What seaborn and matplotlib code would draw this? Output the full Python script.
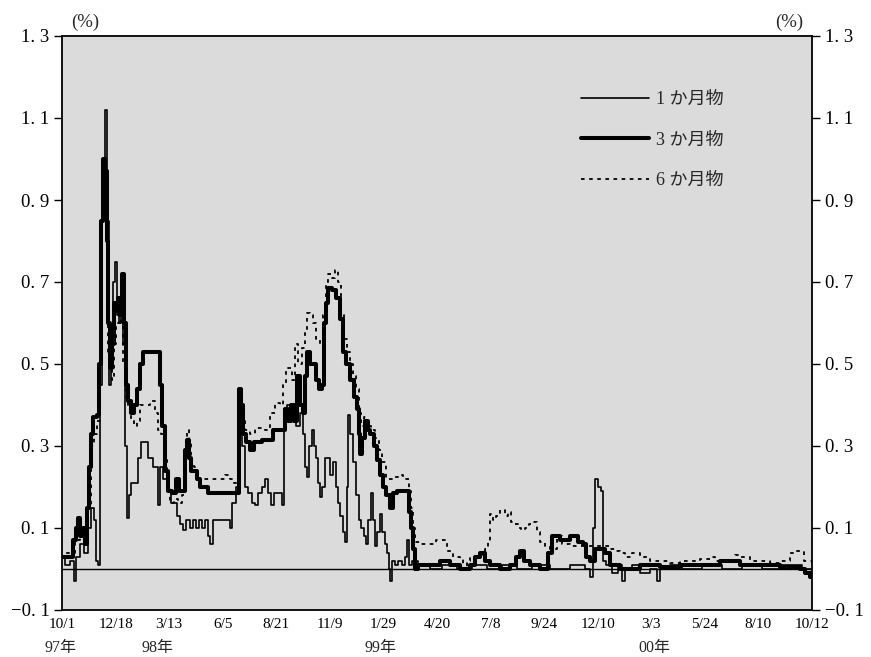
import matplotlib
matplotlib.use("Agg")
import matplotlib.pyplot as plt
import seaborn as sns
import numpy as np
from matplotlib.ticker import FuncFormatter

# business-day index (0 = 97/10/1, 750 = 00/10/12)
day_1m = [0, 3, 8, 12, 14, 18, 22, 26, 29, 32, 34, 36, 38, 40, 43, 45, 47, 49, 51, 53,
          55, 57, 59, 61, 63, 65, 67, 69, 72, 76, 79, 83, 86, 89, 91, 94, 96, 98, 101, 105,
          109, 115, 118, 121, 124, 128, 131, 134, 137, 140, 143, 146, 148, 151, 158, 163, 168, 170, 174, 176,
          178, 180, 183, 186, 190, 193, 196, 200, 203, 206, 209, 212, 216, 220, 222, 225, 228, 231, 234, 238,
          241, 243, 245, 247, 250, 252, 254, 256, 258, 260, 263, 266, 268, 271, 274, 276, 278, 281, 283, 285,
          286, 288, 291, 294, 297, 299, 302, 304, 306, 309, 311, 313, 315, 318, 320, 323, 325, 327, 328, 330,
          333, 336, 340, 343, 345, 347, 350, 356, 368, 380, 395, 410, 425, 440, 455, 470, 488, 508, 523, 528,
          531, 533, 536, 539, 541, 544, 550, 556, 560, 563, 570, 578, 588, 595, 598, 608, 620, 640, 660, 680,
          700, 720, 740, 750]
rate_1m = [0.03, 0.01, 0.02, -0.03, 0.03, 0.06, 0.04, 0.10, 0.15, 0.12, 0.02, 0.01, 0.45, 0.95, 1.12, 0.85, 0.45, 0.55, 0.70, 0.75,
           0.62, 0.60, 0.65, 0.55, 0.30, 0.125, 0.18, 0.21, 0.21, 0.27, 0.31, 0.31, 0.27, 0.27, 0.25, 0.25, 0.155, 0.25, 0.22, 0.19,
           0.16, 0.13, 0.11, 0.095, 0.12, 0.10, 0.12, 0.10, 0.12, 0.10, 0.12, 0.08, 0.06, 0.12, 0.12, 0.12, 0.10, 0.16, 0.20, 0.38,
           0.44, 0.30, 0.20, 0.185, 0.16, 0.155, 0.185, 0.20, 0.22, 0.185, 0.155, 0.185, 0.185, 0.155, 0.39, 0.40, 0.37, 0.40, 0.35, 0.38,
           0.33, 0.25, 0.225, 0.30, 0.34, 0.30, 0.27, 0.21, 0.175, 0.20, 0.27, 0.27, 0.23, 0.26, 0.20, 0.16, 0.13, 0.09, 0.065, 0.20,
           0.375, 0.33, 0.26, 0.18, 0.12, 0.10, 0.08, 0.06, 0.12, 0.185, 0.12, 0.055, 0.09, 0.135, 0.09, 0.06, 0.04, 0.00, -0.03, 0.02,
           0.01, 0.02, 0.01, 0.03, 0.07, 0.01, 0.02, 0.01, 0.0, 0.01, 0.0, 0.01, 0.0, 0.01, 0.0, 0.01, 0.0, 0.01, 0.0, -0.02,
           0.10, 0.22, 0.20, 0.19, 0.02, 0.01, -0.01, 0.01, -0.03, 0.0, 0.01, -0.01, 0.0, -0.03, 0.0, 0.01, 0.0, 0.01, 0.0, 0.01,
           0.0, 0.01, 0.0, 0.0]

day_3m = [0, 4, 8, 11, 14, 16, 18, 21, 23, 25, 27, 29, 31, 35, 37, 39, 41, 43, 45, 46,
          48, 50, 52, 54, 56, 58, 60, 62, 64, 66, 69, 72, 75, 78, 81, 96, 98, 100, 103, 106,
          110, 114, 117, 120, 123, 125, 127, 129, 132, 135, 138, 142, 146, 175, 177, 179, 181, 184, 188, 192,
          196, 200, 208, 211, 221, 223, 226, 229, 232, 235, 238, 241, 243, 245, 248, 251, 254, 257, 260, 262,
          264, 266, 270, 274, 278, 281, 284, 288, 292, 295, 297, 298, 300, 303, 306, 308, 312, 315, 318, 321,
          324, 328, 331, 335, 345, 347, 349, 351, 353, 356, 363, 378, 388, 398, 408, 413, 418, 423, 428, 438,
          448, 454, 458, 462, 468, 478, 486, 490, 498, 508, 516, 521, 524, 528, 533, 538, 543, 548, 558, 578,
          598, 618, 638, 658, 678, 698, 718, 738, 743, 748, 750]
rate_3m = [0.03, 0.03, 0.03, 0.07, 0.10, 0.125, 0.08, 0.10, 0.06, 0.15, 0.25, 0.33, 0.37, 0.375, 0.50, 0.85, 1.00, 0.97, 0.80, 0.60,
           0.49, 0.55, 0.65, 0.63, 0.66, 0.62, 0.72, 0.60, 0.45, 0.41, 0.38, 0.40, 0.44, 0.50, 0.53, 0.53, 0.45, 0.35, 0.24, 0.19,
           0.185, 0.22, 0.19, 0.19, 0.29, 0.315, 0.27, 0.24, 0.24, 0.22, 0.20, 0.20, 0.185, 0.185, 0.44, 0.40, 0.33, 0.31, 0.29, 0.31,
           0.31, 0.315, 0.315, 0.34, 0.34, 0.39, 0.36, 0.40, 0.36, 0.47, 0.40, 0.38, 0.47, 0.53, 0.50, 0.50, 0.46, 0.44, 0.45, 0.60,
           0.65, 0.685, 0.68, 0.66, 0.61, 0.53, 0.50, 0.46, 0.42, 0.39, 0.33, 0.28, 0.32, 0.36, 0.34, 0.33, 0.30, 0.265, 0.23, 0.20,
           0.18, 0.15, 0.185, 0.19, 0.19, 0.14, 0.10, 0.05, 0.0, 0.01, 0.01, 0.02, 0.01, 0.0, 0.01, 0.03, 0.04, 0.02, 0.01, 0.0,
           0.01, 0.03, 0.045, 0.02, 0.01, 0.0, 0.04, 0.08, 0.07, 0.08, 0.065, 0.06, 0.03, 0.02, 0.05, 0.05, 0.04, 0.01, 0.0, 0.01,
           0.005, 0.01, 0.01, 0.02, 0.01, 0.01, 0.005, 0.0, -0.01, -0.02, -0.01]

day_6m = [0, 4, 8, 13, 18, 23, 26, 29, 32, 35, 38, 40, 42, 44, 46, 48, 50, 52, 54, 57,
          59, 61, 64, 66, 69, 72, 75, 78, 82, 88, 93, 96, 99, 102, 105, 108, 112, 116, 120, 123,
          125, 127, 129, 132, 135, 141, 148, 156, 163, 168, 172, 176, 178, 180, 183, 188, 193, 198, 203, 208,
          213, 218, 221, 224, 227, 230, 233, 236, 240, 243, 245, 248, 251, 254, 258, 261, 264, 266, 270, 273,
          276, 279, 282, 285, 288, 291, 294, 297, 299, 302, 305, 309, 313, 317, 320, 324, 328, 332, 336, 341,
          345, 347, 349, 351, 353, 358, 371, 374, 381, 385, 391, 398, 401, 405, 408, 415, 420, 423, 426, 428,
          431, 434, 438, 443, 446, 449, 452, 456, 459, 463, 467, 471, 475, 478, 483, 488, 495, 500, 508, 518,
          528, 538, 548, 553, 558, 563, 570, 578, 588, 598, 608, 618, 628, 638, 648, 653, 663, 673, 678, 688,
          698, 708, 718, 728, 733, 738, 742, 750]
rate_6m = [0.03, 0.04, 0.03, 0.07, 0.10, 0.08, 0.15, 0.30, 0.33, 0.36, 0.60, 0.90, 0.97, 0.85, 0.52, 0.50, 0.46, 0.55, 0.60, 0.63,
           0.60, 0.50, 0.42, 0.39, 0.36, 0.35, 0.36, 0.40, 0.40, 0.41, 0.38, 0.34, 0.33, 0.27, 0.20, 0.16, 0.17, 0.16, 0.18, 0.27,
           0.34, 0.31, 0.26, 0.25, 0.22, 0.22, 0.22, 0.22, 0.23, 0.22, 0.21, 0.30, 0.37, 0.36, 0.34, 0.33, 0.345, 0.345, 0.34, 0.38,
           0.405, 0.40, 0.45, 0.49, 0.49, 0.46, 0.55, 0.50, 0.54, 0.58, 0.625, 0.62, 0.60, 0.56, 0.55, 0.62, 0.70, 0.72, 0.71, 0.73,
           0.70, 0.62, 0.56, 0.53, 0.50, 0.47, 0.44, 0.38, 0.35, 0.37, 0.35, 0.34, 0.32, 0.29, 0.26, 0.22, 0.22, 0.225, 0.23, 0.22,
           0.22, 0.19, 0.15, 0.10, 0.065, 0.06, 0.06, 0.07, 0.07, 0.045, 0.03, 0.025, 0.0, 0.02, 0.03, 0.035, 0.04, 0.05, 0.065, 0.135,
           0.12, 0.13, 0.145, 0.13, 0.14, 0.115, 0.11, 0.10, 0.095, 0.10, 0.11, 0.115, 0.09, 0.065, 0.055, 0.05, 0.08, 0.06, 0.055, 0.055,
           0.055, 0.055, 0.05, 0.045, 0.04, 0.03, 0.04, 0.03, 0.02, 0.02, 0.015, 0.02, 0.02, 0.025, 0.03, 0.02, 0.02, 0.035, 0.03, 0.02,
           0.02, 0.015, 0.02, 0.04, 0.045, 0.045, 0.02, 0.01]

tick_labels = ["10/1", "12/18", "3/13", "6/5", "8/21", "11/9", "1/29", "4/20",
               "7/8", "9/24", "12/10", "3/3", "5/24", "8/10", "10/12"]
year_labels = ["97年", "98年", "99年", "00年"]
year_days = [-2, 95, 318, 592]
series_names = ["1 か月物", "3 か月物", "6 か月物"]

sns.set_theme(style="white")
plt.rcParams["font.family"] = ["Liberation Serif", "Noto Sans CJK JP"]

fig = plt.figure(figsize=(8.71, 6.57), dpi=100)
ax = fig.add_axes([62 / 871, 47 / 657, 750 / 871, 574 / 657])
ax.set_facecolor("#dbdbdb")

sns.lineplot(x=day_1m, y=rate_1m, ax=ax, color="black", lw=1.2,
             drawstyle="steps-post", estimator=None, sort=False, label=series_names[0])
sns.lineplot(x=day_3m, y=rate_3m, ax=ax, color="black", lw=2.9,
             drawstyle="steps-post", estimator=None, sort=False, label=series_names[1])
sns.lineplot(x=day_6m, y=rate_6m, ax=ax, color="black", lw=1.3,
             drawstyle="steps-post", estimator=None, sort=False, label=series_names[2])
ax.lines[2].set_linestyle((0, (2, 2.5)))

ax.axhline(0, color="black", lw=1.0)

ax.set_xlim(0, 750)
ax.set_ylim(-0.1, 1.3)
ax.set_xticks(np.linspace(0, 750, len(tick_labels)))
ax.set_xticklabels(tick_labels, fontsize=11)
ax.set_yticks(np.arange(-0.1, 1.31, 0.2))
ax.yaxis.set_major_formatter(FuncFormatter(lambda v, p: f"{v:.1f}".replace(".", ". ").replace("-", "−")))
ax.tick_params(axis="y", direction="out", length=6, width=1, left=True, right=True,
               labelleft=True, labelright=True, labelsize=13.5, colors="black", pad=3)
ax.tick_params(axis="x", length=0, pad=6, colors="black")
ax.set_xlabel("")
ax.set_ylabel("")

for s in ax.spines.values():
    s.set_color("black")
    s.set_linewidth(1.3)

for lab, d in zip(year_labels, year_days):
    ax.text(d, -0.172, lab, ha="center", va="top", fontsize=11.5)

ax.text(0.031, 1.008, "(%)", transform=ax.transAxes, ha="center", va="bottom", fontsize=13.5)
ax.text(0.97, 1.008, "(%)", transform=ax.transAxes, ha="center", va="bottom", fontsize=13.5)

leg = ax.legend(loc="upper left", bbox_to_anchor=(0.67, 0.932), frameon=False,
                handlelength=3.8, handletextpad=0.35, labelspacing=1.3, fontsize=13)

fig.savefig("out.png", dpi=100)
